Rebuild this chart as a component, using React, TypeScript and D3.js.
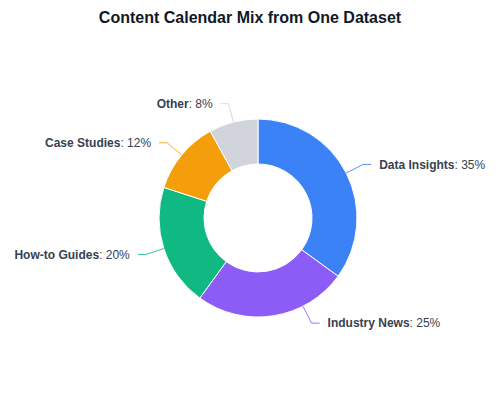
import { useEffect, useRef } from "react";
import * as d3 from "d3";

// Content mix shares (percent)
const categories = ["Data Insights", "Industry News", "How-to Guides", "Case Studies", "Other"];
const shares = [35, 25, 20, 12, 8];
const colors = ["#3b82f6", "#8b5cf6", "#10b981", "#f59e0b", "#d1d5db"];
// small per-label angle nudge (degrees) to keep the bottom label clear
const labelNudge = [0, -18, 0, 0, 0];

const W = 500;
const H = 400;

const App: React.FC = () => {
    const svgRef = useRef<SVGSVGElement | null>(null);

    useEffect(() => {
        if (!svgRef.current) return;
        const svg = d3.select(svgRef.current);
        svg.selectAll("*").remove();

        const cx = 258;
        const cy = 218;
        const outerR = 99;
        const innerR = 54;

        svg.append("text")
            .attr("x", W / 2)
            .attr("y", 23)
            .attr("text-anchor", "middle")
            .style("font-family", "'Liberation Sans', Arial, sans-serif")
            .style("font-size", "16px")
            .style("font-weight", "bold")
            .style("fill", "#111827")
            .text("Content Calendar Mix from One Dataset");

        const data = categories.map((c, i) => ({ name: c, value: shares[i], color: colors[i], nudge: labelNudge[i] }));
        type D = typeof data[number];

        const pie = d3.pie<D>().sort(null).value(d => d.value);
        const arcs = pie(data);
        const arc = d3.arc<d3.PieArcDatum<D>>().innerRadius(innerR).outerRadius(outerR);

        const g = svg.append("g").attr("transform", `translate(${cx},${cy})`);

        g.selectAll("path.slice")
            .data(arcs)
            .enter()
            .append("path")
            .attr("class", "slice")
            .attr("d", arc)
            .attr("fill", d => d.data.color)
            .attr("stroke", "#ffffff")
            .attr("stroke-width", 1);

        // label lines and labels
        const pt = (a: number, r: number): [number, number] => [Math.sin(a) * r, -Math.cos(a) * r];

        arcs.forEach(d => {
            const a = (d.startAngle + d.endAngle) / 2 + (d.data.nudge * Math.PI) / 180;
            const right = Math.sin(a) >= 0;
            const p0 = pt(a, outerR);
            const p1 = pt(a, outerR + 19);
            const p2: [number, number] = [p1[0] + (right ? 8 : -8), p1[1]];

            g.append("polyline")
                .attr("points", [p0, p1, p2].map(p => p.join(",")).join(" "))
                .attr("fill", "none")
                .attr("stroke", d.data.color)
                .attr("stroke-opacity", 0.85)
                .attr("stroke-width", 1);

            const t = g.append("text")
                .attr("x", p2[0] + (right ? 8 : -8))
                .attr("y", p2[1])
                .attr("dy", "0.35em")
                .attr("text-anchor", right ? "start" : "end")
                .style("font-family", "'Liberation Sans', Arial, sans-serif")
                .style("font-size", "12px")
                .style("fill", "#374151");
            t.append("tspan").style("font-weight", "bold").text(d.data.name);
            t.append("tspan").text(`: ${d.data.value}%`);
        });
    }, []);

    return (
        <svg
            ref={svgRef}
            width={W}
            height={H}
            viewBox={`0 0 ${W} ${H}`}
            style={{ position: "absolute", left: 0, top: 0, background: "#ffffff" }}
        />
    );
};

export default App;
